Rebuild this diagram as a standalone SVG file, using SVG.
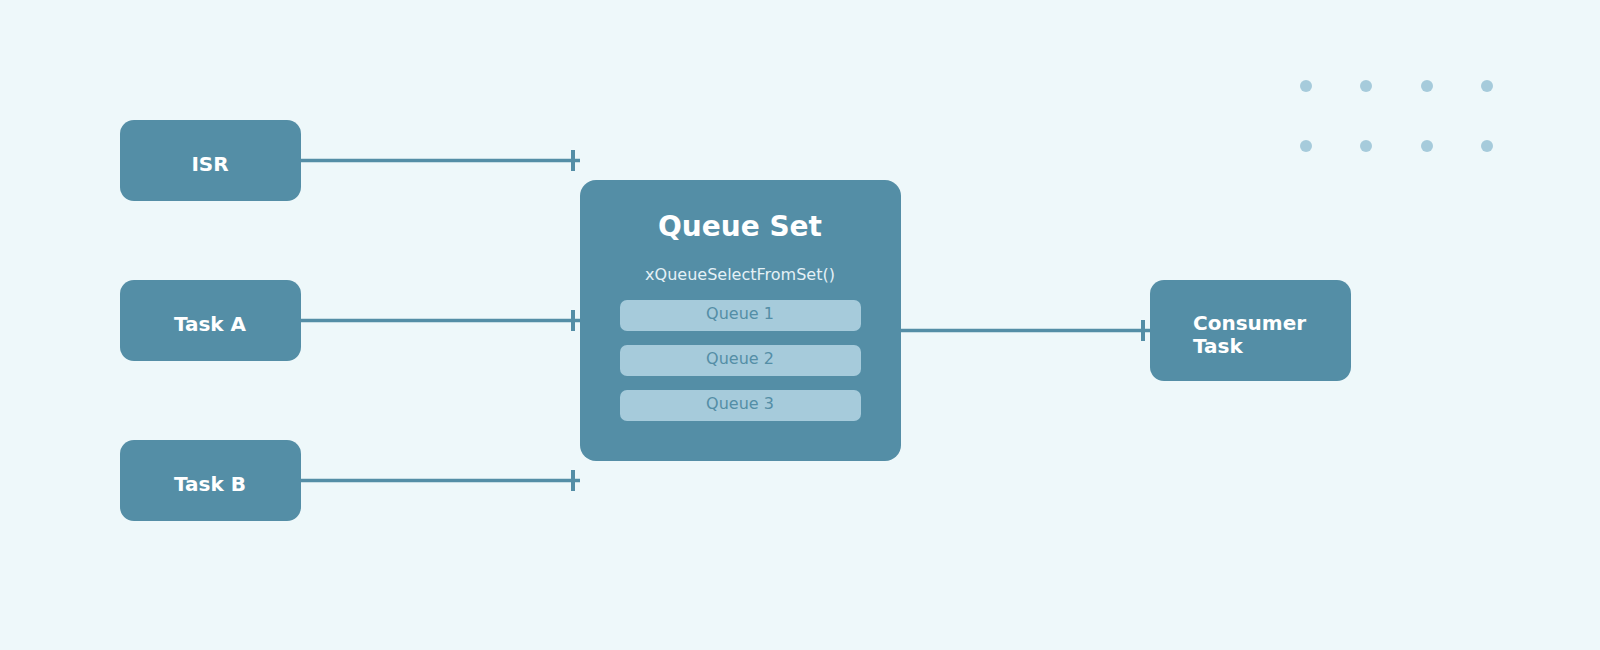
<svg xmlns="http://www.w3.org/2000/svg" width="1600" height="650" viewBox="0 0 1600 650">
<defs>
<style>
.node{fill:#548ea6}
.lbl{font-family:"DejaVu Sans",sans-serif;font-weight:bold;font-size:20px;fill:#ffffff}
.conn{stroke:#548ea6;stroke-width:3.5;fill:none}
.q{fill:#a6cbdb}
.qt{font-family:"DejaVu Sans",sans-serif;font-size:16px;fill:#548ea6;text-anchor:middle}
.dot{fill:#a6cbdb}
</style>
</defs>
<rect width="1600" height="650" fill="#eef8fa"/>
<g id="dots">
<circle class="dot" cx="1306" cy="86" r="6"/><circle class="dot" cx="1366" cy="86" r="6"/><circle class="dot" cx="1427" cy="86" r="6"/><circle class="dot" cx="1487" cy="86" r="6"/>
<circle class="dot" cx="1306" cy="146" r="6"/><circle class="dot" cx="1366" cy="146" r="6"/><circle class="dot" cx="1427" cy="146" r="6"/><circle class="dot" cx="1487" cy="146" r="6"/>
</g>
<g id="connectors">
<line class="conn" x1="301" y1="160.5" x2="580" y2="160.5"/><rect x="571" y="150" width="4" height="21" fill="#548ea6"/>
<line class="conn" x1="301" y1="320.5" x2="580" y2="320.5"/><rect x="571" y="310" width="4" height="21" fill="#548ea6"/>
<line class="conn" x1="301" y1="480.5" x2="580" y2="480.5"/><rect x="571" y="470" width="4" height="21" fill="#548ea6"/>
<line class="conn" x1="901" y1="330.5" x2="1150" y2="330.5"/><rect x="1141" y="320" width="4" height="21" fill="#548ea6"/>
</g>
<g id="isr"><rect class="node" x="120" y="120" width="181" height="81" rx="14"/><text class="lbl" x="210" y="171" text-anchor="middle">ISR</text></g>
<g id="taskA"><rect class="node" x="120" y="280" width="181" height="81" rx="14"/><text class="lbl" x="210" y="331" text-anchor="middle">Task A</text></g>
<g id="taskB"><rect class="node" x="120" y="440" width="181" height="81" rx="14"/><text class="lbl" x="210" y="491" text-anchor="middle">Task B</text></g>
<g id="queueSet">
<rect class="node" x="580" y="180" width="321" height="281" rx="16"/>
<text x="740" y="236" text-anchor="middle" font-family="DejaVu Sans, sans-serif" font-weight="bold" font-size="28" fill="#ffffff">Queue Set</text>
<text x="740" y="280" text-anchor="middle" font-family="DejaVu Sans, sans-serif" font-size="16" fill="#e4f1f6">xQueueSelectFromSet()</text>
<rect class="q" x="620" y="300" width="241" height="31" rx="7"/><text class="qt" x="740" y="319">Queue 1</text>
<rect class="q" x="620" y="345" width="241" height="31" rx="7"/><text class="qt" x="740" y="364">Queue 2</text>
<rect class="q" x="620" y="390" width="241" height="31" rx="7"/><text class="qt" x="740" y="409">Queue 3</text>
</g>
<g id="consumer"><rect class="node" x="1150" y="280" width="201" height="101" rx="14"/>
<text class="lbl" x="1193" y="330">Consumer</text><text class="lbl" x="1193" y="353">Task</text></g>
</svg>
